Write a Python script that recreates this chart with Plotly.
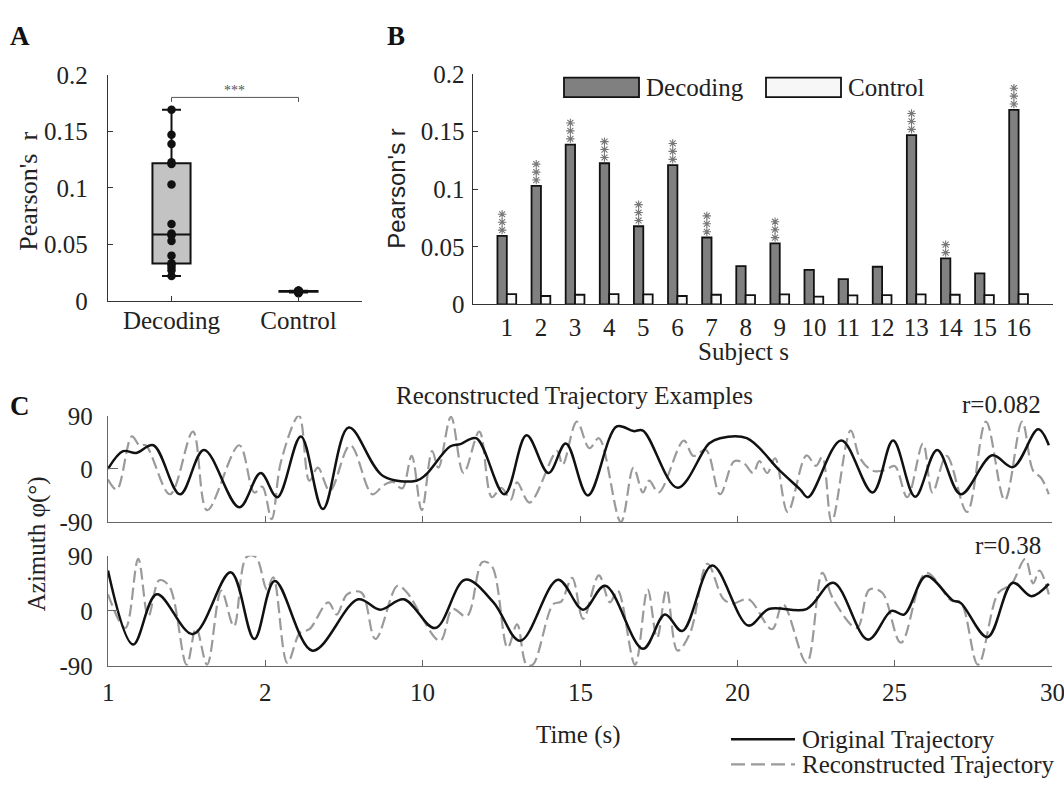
import plotly.graph_objects as go

W, H = 1064, 791
SERIF = "Liberation Serif, Times New Roman, serif"
SANS = "Liberation Sans, Arial, sans-serif"

# ---------------- data ----------------
group_labels = ["Decoding", "Control"]
subjects = list(range(1, 17))
decoding_r = [0.0595, 0.103, 0.1388, 0.1226, 0.0679, 0.121, 0.0581, 0.0332,
              0.053, 0.030, 0.022, 0.0327, 0.147, 0.040, 0.027, 0.169]
control_r = [0.0089, 0.0073, 0.0084, 0.0089, 0.0087, 0.0073, 0.0084, 0.0081,
             0.0087, 0.0067, 0.0078, 0.0081, 0.0087, 0.0084, 0.0081, 0.0089]
significance = ["***", "***", "***", "***", "***", "***", "***", "",
                "***", "", "", "", "***", "**", "", "***"]
group_sig = "***"
group_sig_y = 0.180

yticks_r = [0, 0.05, 0.1, 0.15, 0.2]
yticktext_r = ["0", "0.05", "0.1", "0.15", "0.2"]
time_ticks = [0, 5, 10, 15, 20, 25, 30]
time_ticktext = ["1", "2", "10", "15", "20", "25", "30"]
az_ticks = [-90, 0, 90]
az_ticktext = ["-90", "0", "90"]

# example 1 (r=0.082): original trajectory
t1_orig = [0, 0.48, 0.9, 1.44, 2.29, 3.05, 4.17, 4.85, 5.38, 6.13, 6.83, 7.65,
           8.74, 9.8, 10.1, 10.87, 11.2, 11.7, 12.6, 13.3, 14.0, 14.55, 15.25,
           16.17, 16.7, 17.0, 18.1, 19.1, 19.45, 20.3, 21.35, 22.0, 22.25, 23.3,
           24.3, 24.95, 25.65, 26.35, 27.1, 28.1, 28.76, 29.56, 29.9]
v1_orig = [0, 30, 27, 40, -43, 32, -65, -7, -48, 55, -68, 70,
           -12, -20, -10, 38, 42, 52, -43, 57, -7, 43, -45,
           72, 64, 65, -32, 43, 52, 52, -3, -35, -48, 48,
           -40, 48, -47, 32, -43, 23, 3, 67, 40]
# example 1: reconstructed trajectory
t1_rec = [0, 0.28, 0.76, 1.0, 1.2, 1.97, 2.7, 3.15, 4.17, 4.65, 4.9, 5.2, 5.5,
          6.07, 6.4, 6.67, 7.05, 7.7, 8.4, 8.75, 9.05, 9.35, 9.65, 9.97, 10.3,
          10.5, 10.9, 11.3, 11.8, 12.2, 12.5, 12.8, 13.0, 13.4, 14.27, 14.45,
          14.9, 15.3, 15.6, 16.3, 16.7, 17.0, 17.2, 17.5, 18.3, 18.6, 19.0,
          19.45, 19.9, 20.2, 20.5, 20.7, 20.95, 21.2, 21.6, 22.2, 22.5, 22.7,
          23.0, 23.6, 23.9, 24.3, 24.7, 25.0, 25.4, 25.9, 26.2, 26.65, 27.3,
          27.9, 28.5, 29.05, 29.4, 29.65, 29.9]
v1_rec = [-18, -35, 55, 40, 40, -43, 63, -70, 40, -40, -30, -85, 13,
          90, -20, 2, -37, 40, -43, -28, -22, -33, 22, -70, 30,
          2, 88, -7, 63, -48, -32, -52, -23, -57, 30, 7,
          80, 35, 52, -90, 2, -40, -20, -40, 48, 22, 32,
          -43, 13, 10, -7, 13, -7, 18, -73, 23, 5, 20,
          -90, 65, 18, -3, -2, 5, -48, 43, -40, 22, -73,
          80, -53, 80, -3, -15, -43]
# example 2 (r=0.38): original trajectory
t2_orig = [0, 0.8, 1.55, 2.7, 3.9, 4.65, 5.3, 6.5, 7.95, 8.65, 9.4, 10.4, 11.35,
           12.25, 13.1, 14.3, 15.1, 15.8, 17.0, 17.7, 18.25, 19.2, 20.35, 21.0,
           22.2, 23.05, 24.15, 24.9, 25.3, 26.0, 26.85, 27.1, 27.95, 28.75,
           29.35, 29.9]
v2_orig = [66, -55, 27, -38, 63, -46, 49, -65, 19, 2, 19, -28, 51,
           14, -49, 51, 2, 41, -62, -6, -33, 74, -24, 3,
           3, 46, -47, 0, -6, 57, 17, 13, -43, 46,
           24, 44]
# example 2: reconstructed trajectory
t2_rec = [0, 0.55, 0.96, 1.28, 1.63, 1.95, 2.5, 2.8, 3.15, 3.6, 4.0, 4.4, 4.7,
          5.05, 5.25, 5.7, 6.1, 6.4, 7.0, 7.27, 7.6, 8.05, 8.5, 9.2, 9.5,
          10.55, 10.95, 11.4, 11.9, 12.2, 12.7, 13.0, 13.3, 13.5, 14.15, 14.4,
          14.75, 15.1, 15.6, 15.95, 16.2, 16.75, 17.15, 17.45, 17.75, 18.1,
          18.5, 19.05, 19.55, 19.85, 20.35, 21.1, 21.45, 22.2, 22.7, 23.05,
          23.8, 24.2, 24.6, 25.2, 26.0, 26.8, 27.1, 27.65, 28.3, 28.7, 29.15,
          29.4, 29.6, 29.9]
v2_rec = [27, -28, 85, -9, 50, 40, -88, -28, -88, 33, -25, 88, 88,
          35, 55, -85, -36, -30, 14, -6, 27, 30, -46, 41, 30,
          -49, 3, -9, 80, 73, -60, -22, -88, -88, 11, 15,
          54, -13, 58, 14, 33, -88, 35, -44, 35, -65,
          -36, 77, 20, 12, 19, -30, 11, -85, 62, 19,
          -28, 35, 30, -52, 62, 17, 14, -88, 30, 43, 85,
          45, 66, 27]
r_labels = ["r=0.082", "r=0.38"]

# ---------------- helpers ----------------
def fx(p):
    return p / W


def fy(p):
    return 1 - p / H


BARGAP = 0.45
BLACK = "#111111"
AX = "#333333"
AXC = "#666666"
TXT = "#222222"
FS = 25

fig = go.Figure()

# ---- Panel A: box plots ----
for name, vals, fill in [(group_labels[0], decoding_r, "#c3c3c3"),
                         (group_labels[1], control_r, "#d8d8d8")]:
    fig.add_trace(go.Box(
        y=vals, name=name, xaxis="x", yaxis="y",
        boxpoints="all", jitter=0, pointpos=0, width=0.3, whiskerwidth=0.5,
        quartilemethod="exclusive",
        fillcolor=fill, line=dict(color=BLACK, width=2),
        marker=dict(color=BLACK, size=8.5), showlegend=False, hoverinfo="y"))

fig.add_trace(go.Scatter(
    x=[group_labels[0], group_labels[0], group_labels[1], group_labels[1]],
    y=[group_sig_y - 0.004, group_sig_y, group_sig_y, group_sig_y - 0.004],
    mode="lines", line=dict(color="#555555", width=1),
    xaxis="x", yaxis="y", showlegend=False, hoverinfo="skip"))

# ---- Panel B: bars ----
fig.add_trace(go.Bar(x=subjects, y=decoding_r, name="Decoding",
                     marker=dict(color="#808080", line=dict(color=BLACK, width=1.8)),
                     xaxis="x2", yaxis="y2", showlegend=False))
fig.add_trace(go.Bar(x=subjects, y=control_r, name="Control",
                     marker=dict(color="#f7f7f7", line=dict(color=BLACK, width=1.8)),
                     xaxis="x2", yaxis="y2", showlegend=False))

bar_w = (1 - BARGAP) / 2
star_x, star_y = [], []
for s, v, sig in zip(subjects, decoding_r, significance):
    for k in range(len(sig)):
        star_x.append(s - bar_w / 2)
        star_y.append(v + 0.0050 + k * 0.0069)
fig.add_trace(go.Scatter(x=star_x, y=star_y, mode="markers",
                         marker=dict(symbol="asterisk-open", size=7, color="#777777",
                                     line=dict(color="#777777", width=1.1)),
                         xaxis="x2", yaxis="y2", showlegend=False, hoverinfo="skip"))

# ---- Panel C: trajectories ----
for (t_o, v_o, t_r, v_r, xa, ya) in [(t1_orig, v1_orig, t1_rec, v1_rec, "x3", "y3"),
                                     (t2_orig, v2_orig, t2_rec, v2_rec, "x4", "y4")]:
    fig.add_trace(go.Scatter(x=t_r, y=v_r, mode="lines", xaxis=xa, yaxis=ya,
                             line=dict(color="#9a9a9a", width=2.2, dash="12px,5px",
                                       shape="spline", smoothing=1.0),
                             showlegend=False, hoverinfo="skip"))
    fig.add_trace(go.Scatter(x=t_o, y=v_o, mode="lines", xaxis=xa, yaxis=ya,
                             line=dict(color=BLACK, width=2.5, shape="spline", smoothing=1.0),
                             showlegend=False, hoverinfo="skip"))

tickfont = dict(family=SERIF, size=FS, color=TXT)

layout = dict(
    width=W, height=H, autosize=False, margin=dict(l=0, r=0, t=0, b=0),
    paper_bgcolor="white", plot_bgcolor="white",
    barmode="group", bargap=BARGAP, bargroupgap=0,
    xaxis=dict(domain=[fx(108), fx(362)], anchor="y", type="category",
               range=[-0.5, 1.5], showline=True, linecolor=AX, linewidth=1.3,
               ticks="inside", ticklen=5, tickcolor=AX, showgrid=False, zeroline=False,
               tickfont=tickfont, ticklabelstandoff=-3),
    yaxis=dict(domain=[fy(298), fy(64)], anchor="x", range=[0, 0.2],
               tickvals=yticks_r, ticktext=yticktext_r,
               showline=True, linecolor=AX, linewidth=1.3, ticks="inside", ticklen=5,
               tickcolor=AX, showgrid=False, zeroline=False, tickfont=tickfont,
               ticklabelstandoff=14),
    xaxis2=dict(domain=[fx(472.7), fx(1052.7)], anchor="y2", range=[0, 17],
                tickvals=subjects, ticktext=[str(s) for s in subjects],
                showline=True, linecolor=AX, linewidth=1.3, ticks="", showgrid=False,
                zeroline=False, tickfont=tickfont, ticklabelstandoff=0),
    yaxis2=dict(domain=[fy(301.7), fy(63.3)], anchor="x2", range=[0, 0.2],
                tickvals=yticks_r, ticktext=yticktext_r,
                showline=True, linecolor=AX, linewidth=1.3, ticks="inside", ticklen=5,
                tickcolor=AX, showgrid=False, zeroline=False, tickfont=tickfont,
                ticklabelstandoff=2),
    xaxis3=dict(domain=[fx(108), fx(1052)], anchor="y3", range=[0, 30],
                tickvals=time_ticks, showticklabels=False,
                showline=True, linecolor=AXC, linewidth=1.3, ticks="inside", ticklen=6,
                tickcolor=AXC, showgrid=False, zeroline=False),
    yaxis3=dict(domain=[fy(527), fy(417)], anchor="x3", range=[-90, 90],
                tickvals=az_ticks, ticktext=az_ticktext,
                showline=True, linecolor=AXC, linewidth=1.3,
                ticks="inside", ticklen=10, tickcolor=AXC, showgrid=False,
                zeroline=False, tickfont=tickfont, ticklabelstandoff=9),
    xaxis4=dict(domain=[fx(108), fx(1052)], anchor="y4", range=[0, 30],
                tickvals=time_ticks, showticklabels=False,
                showline=True, linecolor=AXC, linewidth=1.3, ticks="inside", ticklen=6,
                tickcolor=AXC, showgrid=False, zeroline=False),
    yaxis4=dict(domain=[fy(676), fy(562)], anchor="x4", range=[-90, 90],
                tickvals=az_ticks, ticktext=az_ticktext,
                showline=True, linecolor=AXC, linewidth=1.3,
                ticks="inside", ticklen=10, tickcolor=AXC, showgrid=False,
                zeroline=False, tickfont=tickfont, ticklabelstandoff=9),
)
fig.update_layout(**layout)


def ann(text, x, y, size=FS, family=SERIF, xanchor="center", angle=0,
        color=TXT, bold=False):
    if bold:
        text = "<b>" + text + "</b>"
    fig.add_annotation(text=text, x=fx(x), y=fy(y), xref="paper", yref="paper",
                       xanchor=xanchor, yanchor="middle", showarrow=False,
                       textangle=angle, font=dict(family=family, size=size, color=color))


# time-axis tick labels (placed on the data axis so the last one is not clipped)
for tv, tt in zip(time_ticks, time_ticktext):
    fig.add_annotation(text=tt, x=tv, xref="x4", y=fy(703), yref="paper",
                       xanchor="center", yanchor="middle", showarrow=False,
                       font=dict(family=SERIF, size=FS, color=TXT))

# panel letters
ann("A", 20, 24, size=27, bold=True, color="#111111")
ann("B", 396, 24, size=27, bold=True, color="#111111")
ann("C", 20, 407, size=27, bold=True, color="#111111")

# panel A texts
ann("Pearson's  r", 29, 185, size=26, angle=-90)
ann(group_sig, 234.5, 80, size=14, color="#555555")

# panel B texts
ann("Pearson's r", 397, 182, size=24, family=SANS, angle=-90)
ann("Subject s", 743, 350, size=FS)
fig.add_shape(type="rect", xref="paper", yref="paper",
              x0=fx(564), x1=fx(639), y0=fy(87), y1=fy(67),
              fillcolor="#808080", line=dict(color=BLACK, width=1.8))
ann("Decoding", 644, 77, xanchor="left")
fig.add_shape(type="rect", xref="paper", yref="paper",
              x0=fx(766), x1=fx(841), y0=fy(87), y1=fy(67),
              fillcolor="#f7f7f7", line=dict(color=BLACK, width=1.8))
ann("Control", 846, 77, xanchor="left")

# panel C texts
ann("Reconstructed Trajectory Examples", 574, 396)
ann(r_labels[0], 1043, 405, xanchor="right")
ann(r_labels[1], 1043, 551, xanchor="right")
ann("Azimuth φ(°)", 37, 550, angle=-90)
ann("Time (s)", 578, 747)

fig.add_shape(type="line", xref="paper", yref="paper",
              x0=fx(731), x1=fx(795), y0=fy(752), y1=fy(752),
              line=dict(color=BLACK, width=2.5))
ann("Original Trajectory", 800, 752, xanchor="left")
fig.add_shape(type="line", xref="paper", yref="paper",
              x0=fx(731), x1=fx(795), y0=fy(778), y1=fy(778),
              line=dict(color="#9a9a9a", width=2.2, dash="14px,6px"))
ann("Reconstructed Trajectory", 800, 778, xanchor="left")

fig.write_html("out.html", config={"displayModeBar": False, "responsive": False},
               post_script="document.body.style.margin='0px';document.body.style.overflow='hidden';")
